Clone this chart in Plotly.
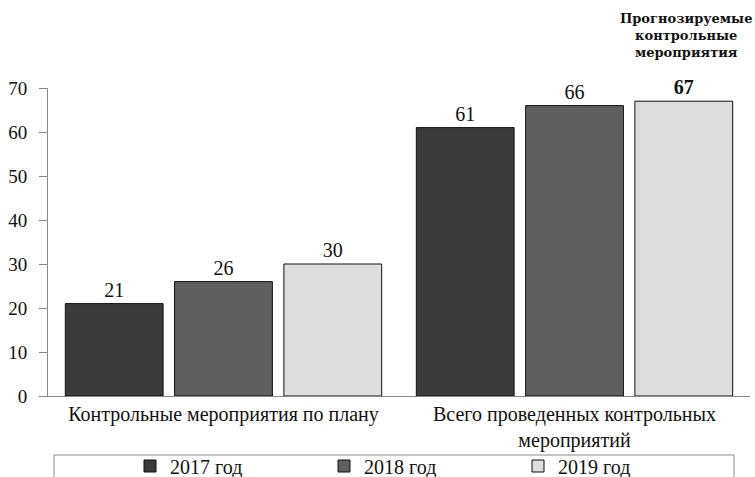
import plotly.graph_objects as go

categories = ["Контрольные мероприятия по плану", "Всего проведенных контрольных<br>мероприятий"]
series_names = ["2017 год", "2018 год", "2019 год"]
values_2017 = [21, 61]
values_2018 = [26, 66]
values_2019 = [30, 67]
colors = ["#3b3b3b", "#5f5f5f", "#dddddd"]
forecast_note = "Прогнозируемые<br>контрольные<br>мероприятия"
y_ticks = [0, 10, 20, 30, 40, 50, 60, 70]

FONT = "Times New Roman"

W, H = 755, 477
PL, PR, PT, PB = 48, 750, 88, 396  # plot area in pixels

fig = go.Figure()
all_vals = [values_2017, values_2018, values_2019]
for i, (name, vals, col) in enumerate(zip(series_names, all_vals, colors)):
    texts = []
    for j, v in enumerate(vals):
        if i == 2 and j == 1:
            texts.append(f"<b>{v}</b>")
        else:
            texts.append(str(v))
    fig.add_trace(go.Bar(
        name=name, x=categories, y=vals, text=texts,
        textposition="outside", cliponaxis=False,
        textfont=dict(family=FONT, size=20, color="#111111"),
        marker=dict(color=col, line=dict(color="#111111", width=1)),
    ))

fig.update_layout(
    width=W, height=H,
    margin=dict(l=PL, r=W - PR, t=PT, b=H - PB, autoexpand=False),
    paper_bgcolor="white", plot_bgcolor="white",
    barmode="group", bargap=0.066, bargroupgap=0.105,
    font=dict(family=FONT, size=18, color="#111111"),
    showlegend=True,
    legend=dict(orientation="h", x=130 / W, y=1 - 466 / H, xref="container", yref="container",
                xanchor="left", yanchor="middle",
                entrywidth=149, entrywidthmode="pixels", itemwidth=30,
                font=dict(family=FONT, size=20, color="#111111"),
                bgcolor="rgba(0,0,0,0)", traceorder="normal"),
    xaxis=dict(showline=True, linecolor="#888888", linewidth=1, ticks="", automargin=False,
               tickfont=dict(family=FONT, size=20, color="#111111")),
    yaxis=dict(range=[0, 70], tickvals=y_ticks, showline=True, linecolor="#888888",
               linewidth=1, ticks="outside", ticklen=8, tickcolor="#888888", automargin=False,
               ticklabelstandoff=8,
               showgrid=False, zeroline=False,
               tickfont=dict(family=FONT, size=19, color="#111111")),
)

pw, ph = PR - PL, PB - PT
fig.add_shape(type="rect", xref="paper", yref="paper",
              x0=6 / pw, x1=686 / pw,
              y0=-90 / ph, y1=-59 / ph,
              line=dict(color="#888888", width=1), fillcolor="rgba(0,0,0,0)")

fig.add_annotation(text=forecast_note, xref="paper", yref="paper",
                   x=638 / pw, y=1 + 53 / ph, xanchor="center", yanchor="middle",
                   showarrow=False, align="center",
                   font=dict(family="DejaVu Serif", size=13, color="#111111", weight="bold"))

fig.write_html("out.html", config={"displayModeBar": False},
               post_script="document.body.style.margin='0';document.body.style.overflow='hidden';")
